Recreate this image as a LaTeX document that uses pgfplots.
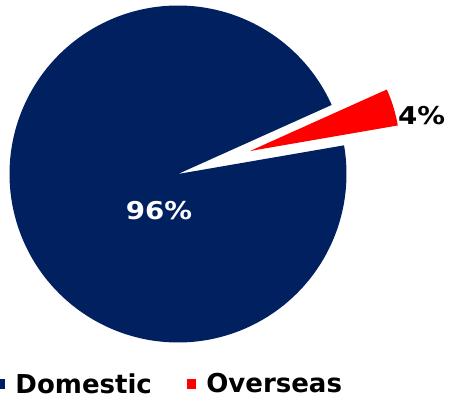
\documentclass[border=0pt]{standalone}
\usepackage{pgfplots}
\pgfplotsset{compat=1.18}
\usepackage{pgfplotstable}
\usepackage{fontspec}
\setmainfont{DejaVu Sans}
\definecolor{navy}{HTML}{002060}
\definecolor{ovred}{HTML}{FF0000}
\pgfplotstableread{
label value
Domestic 96
Overseas 4
}\piedata
\begin{document}
\begin{tikzpicture}
\pgfplotstablegetelem{0}{value}\of\piedata \let\vDom\pgfplotsretval
\pgfplotstablegetelem{1}{value}\of\piedata \let\vOvr\pgfplotsretval
\pgfmathsetmacro{\aStart}{9.8}
\pgfmathsetmacro{\aMid}{\aStart+3.6*\vOvr}
\pgfmathsetmacro{\aEnd}{\aMid+3.6*\vDom}
\begin{axis}[
  scale only axis, width=450pt, height=399pt,
  xmin=0, xmax=450, ymin=0, ymax=399,
  hide axis, clip=false,
  legend columns=2,
  legend image code/.code={\fill (0pt,-4.75pt) rectangle (9.5pt,4.75pt);},
  legend cell align=left,
  legend style={at={(axis description cs:-0.0089,0.0376)}, anchor=west,
    draw=none, fill=none, inner sep=0pt, outer sep=0pt,
    nodes={inner sep=0pt},
    font=\fontsize{26}{31}\selectfont\bfseries,
    /tikz/every odd column/.append style={column sep=10pt},
    /tikz/every even column/.append style={column sep=35pt}},
]
\addplot[fill=navy, draw=none, domain=\aMid:\aEnd, samples=240, variable=\t]
  ({178+168.5*cos(\t)},{225+168.5*sin(\t)}) -- (axis cs:178,225) -- cycle;
\addlegendentry{Domestic}
\addplot[fill=ovred, draw=none, domain=\aStart:\aMid, samples=30, variable=\t]
  ({250+150*cos(\t)},{248+150*sin(\t)}) -- (axis cs:250,248) -- cycle;
\addlegendentry{Overseas}
\node[anchor=base, text=white, font=\fontsize{24.5}{29}\selectfont\bfseries, inner sep=0pt, xscale=1.13] at (axis cs:159,179.7) {96\%};
\node[anchor=base, text=black, font=\fontsize{24.5}{29}\selectfont\bfseries, inner sep=0pt, xscale=1.13] at (axis cs:421.5,274.7) {4\%};
\coordinate (bl) at (axis cs:0,0);
\coordinate (tr) at (axis cs:450,399);
\end{axis}
\pgfresetboundingbox
\path (bl) rectangle (tr);
\end{tikzpicture}
\end{document}
